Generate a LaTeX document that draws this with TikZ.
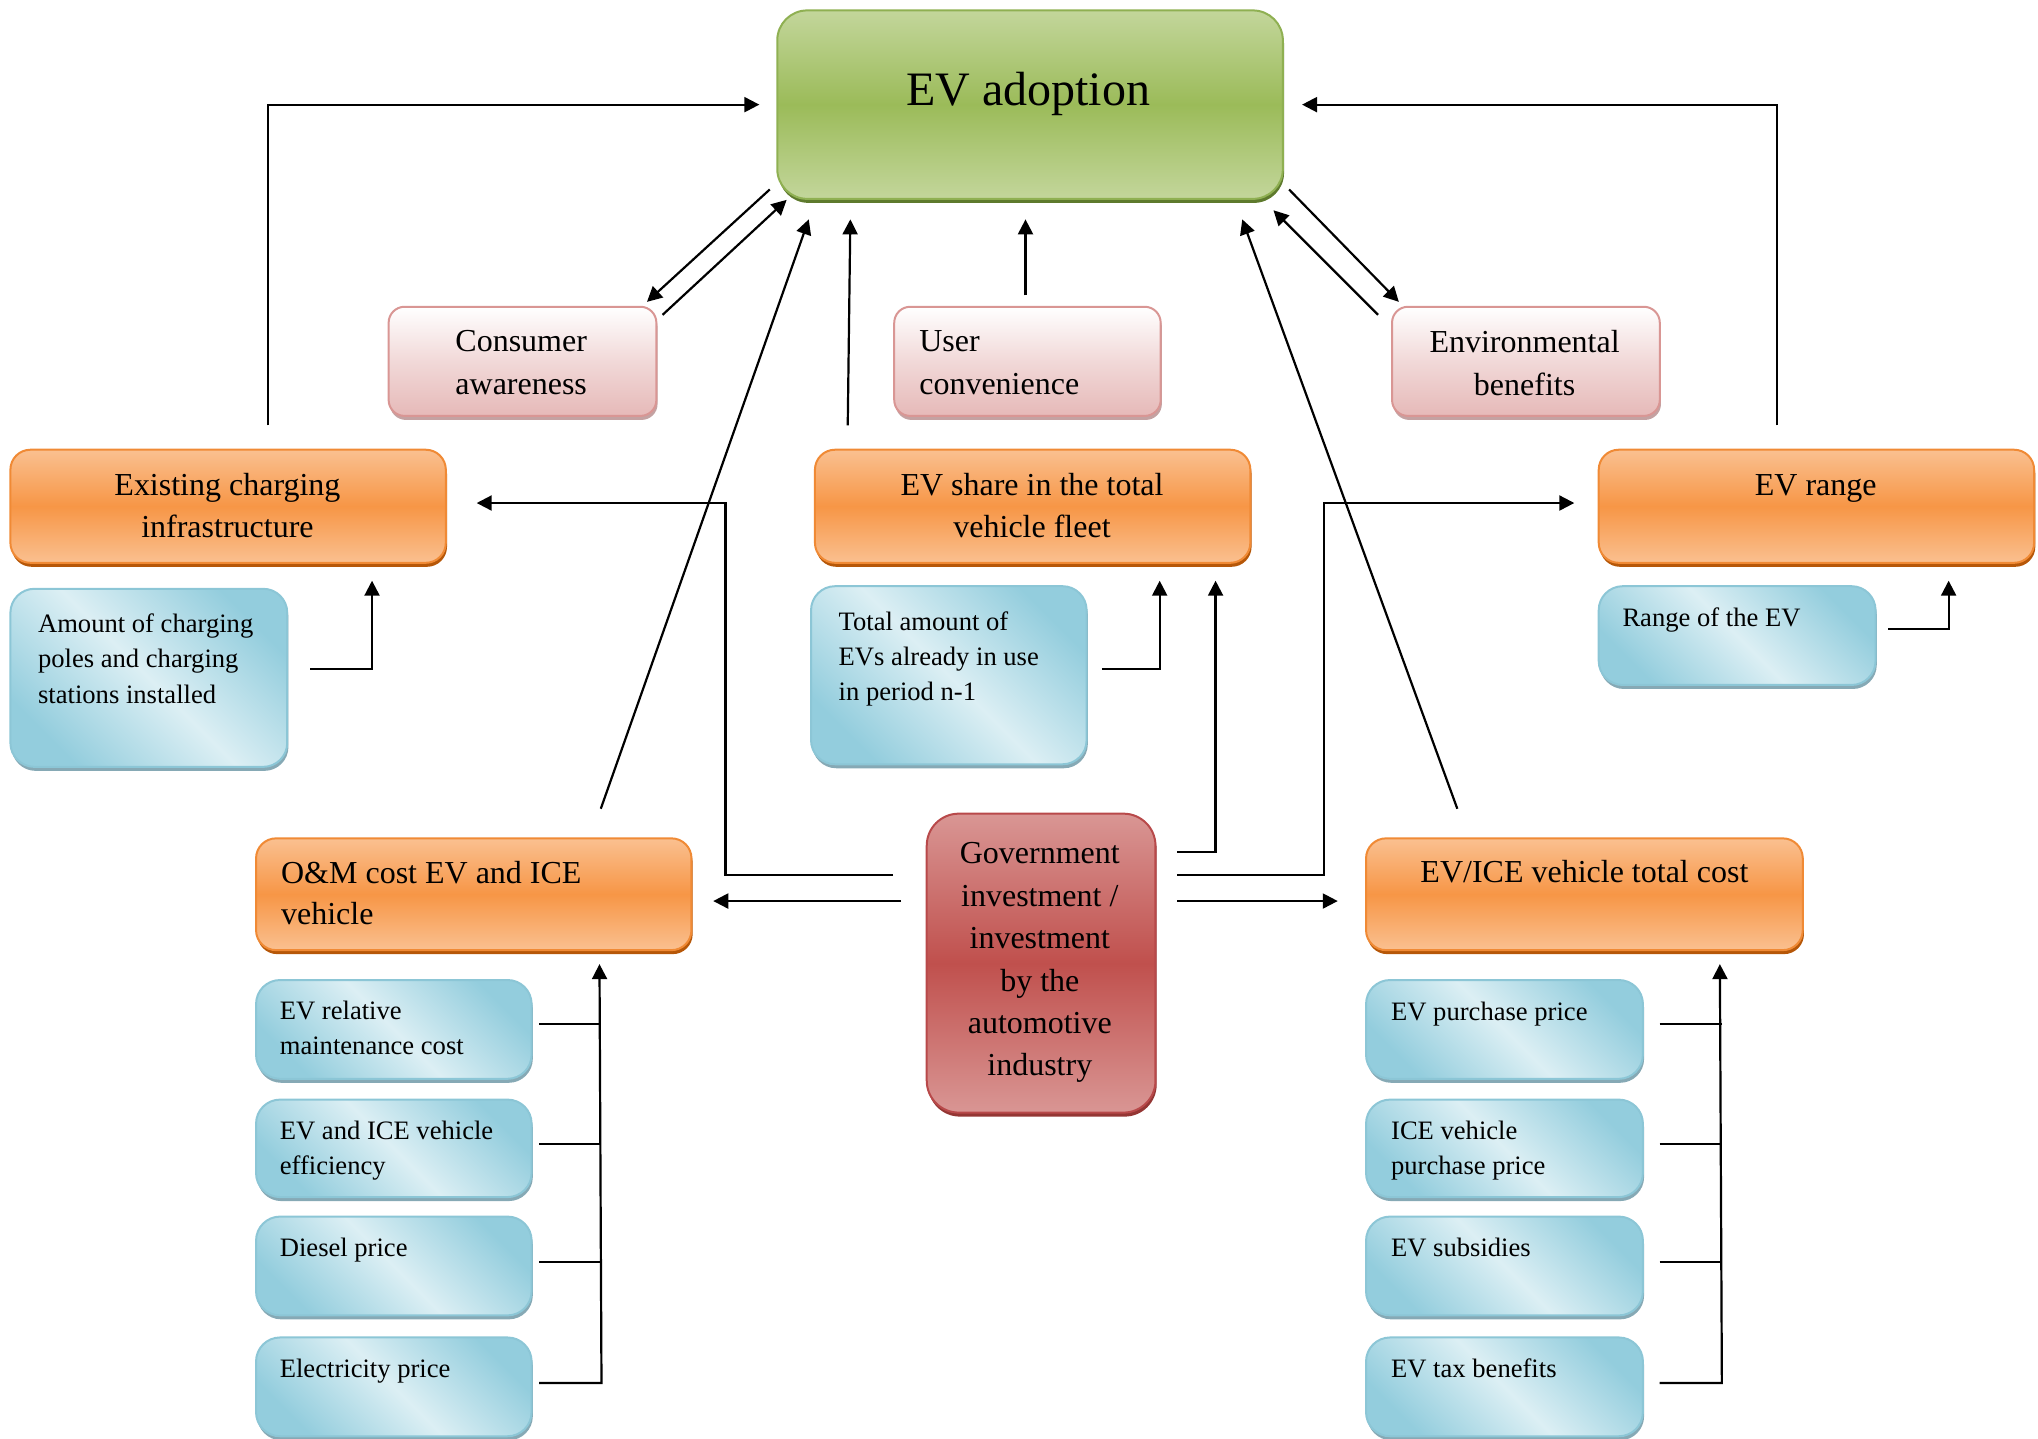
\documentclass[tikz,border=0pt]{standalone}
\usepackage{fontspec}
\setmainfont{Liberation Serif}
\usetikzlibrary{arrows.meta,calc,fit,shadows}
\definecolor{gLight}{HTML}{C3D69B}
\definecolor{gMid}{HTML}{9BBB59}
\definecolor{gBorder}{HTML}{8FB052}
\definecolor{gShadow}{HTML}{5E7A2D}
\definecolor{oLight}{HTML}{FAC090}
\definecolor{oMid}{HTML}{F79646}
\definecolor{oBorder}{HTML}{F08A35}
\definecolor{oShadow}{HTML}{B65708}
\definecolor{pBottom}{HTML}{E6B9B8}
\definecolor{pBorder}{HTML}{D99694}
\definecolor{pShadow}{HTML}{C4A2A2}
\definecolor{bDark}{HTML}{93CDDD}
\definecolor{bLight}{HTML}{DCEFF4}
\definecolor{bBorder}{HTML}{8CC6D6}
\definecolor{bShadow}{HTML}{86A9B5}
\definecolor{rLight}{HTML}{D99694}
\definecolor{rMid}{HTML}{C0504D}
\definecolor{rBorder}{HTML}{B8494A}
\definecolor{rShadow}{HTML}{943634}
\begin{document}
\begin{tikzpicture}[x=0.65pt,y=-0.65pt,
  boxbase/.style={inner sep=0pt, line width=1pt},
  gbox/.style={boxbase, draw=gBorder, rounded corners=15pt,
    top color=gLight, bottom color=gLight, middle color=gMid,
    general shadow={fill=gShadow, shadow yshift=-2pt, shadow xshift=0.6pt}},
  obox/.style={boxbase, draw=oBorder, rounded corners=10pt,
    top color=oLight, bottom color=oLight, middle color=oMid,
    general shadow={fill=oShadow, shadow yshift=-2pt, shadow xshift=0.6pt}},
  pbox/.style={boxbase, draw=pBorder, rounded corners=8pt,
    top color=white, bottom color=pBottom, middle color=pBottom!55,
    general shadow={fill=pShadow, shadow yshift=-2pt, shadow xshift=0.6pt}},
  bbox/.style={boxbase, draw=bBorder, rounded corners=12pt,
    top color=bDark, bottom color=bDark, middle color=bLight, shading angle=-45,
    general shadow={fill=bShadow, shadow yshift=-2pt, shadow xshift=0.6pt}},
  rbox/.style={boxbase, draw=rBorder, rounded corners=16pt,
    top color=rLight, bottom color=rLight, middle color=rMid,
    general shadow={fill=rShadow, shadow yshift=-2pt, shadow xshift=0.6pt}},
  bigtext/.style={inner sep=0pt, font=\fontsize{24}{28}\selectfont},
  otext/.style={inner sep=0pt, align=center, font=\fontsize{16}{20.8}\selectfont},
  ptext/.style={inner sep=0pt, align=center, font=\fontsize{16}{21.5}\selectfont},
  rtext/.style={inner sep=0pt, align=center, font=\fontsize{16}{21.2}\selectfont},
  btext/.style={inner sep=0pt, align=left, font=\fontsize{13.3}{17.6}\selectfont},
  conn/.style={line width=1.1pt},
  arr/.style={line width=1.1pt, -{Triangle[length=7.5pt,width=7.5pt]}}
]
\useasboundingbox (0,0) rectangle (1568,1107);

% ---- boxes ----
\node[gbox, fit={(598,8)(987,153)}] (evad) {};
\node[bigtext, anchor=base] (evadt) at (791,81) {EV adoption};

\node[pbox, fit={(299,236)(505,320)}] (cons) {};
\node[ptext, anchor=north] (const) at (401,254) {Consumer\\awareness};
\node[pbox, fit={(688,236)(893,320)}] (user) {};
\node[ptext, align=left, anchor=north west] (usert) at (707,254) {User\\convenience};
\node[pbox, fit={(1071,236)(1277,320)}] (env) {};
\node[ptext, anchor=north] (envt) at (1173,254) {Environmental\\benefits};

\node[obox, fit={(8,346)(343,433)}] (infra) {};
\node[otext, anchor=north] (infrat) at (175,364) {Existing charging\\infrastructure};
\node[obox, fit={(627,346)(962,433)}] (share) {};
\node[otext, anchor=north] (sharet) at (794,364) {EV share in the total\\vehicle fleet};
\node[obox, fit={(1230,346)(1565,433)}] (range) {};
\node[otext, anchor=base] (ranget) at (1397,381) {EV range};

\node[bbox, fit={(8,453)(221,590)}] (amount) {};
\node[btext, anchor=north west] (amountt) at (29,472) {Amount of charging\\poles and charging\\stations installed};
\node[bbox, fit={(624,451)(836,588)}] (total) {};
\node[btext, anchor=north west] (totalt) at (645,470) {Total amount of\\EVs already in use\\in period n-1};
\node[bbox, fit={(1230,451)(1443,527)}] (rangeev) {};
\node[btext, anchor=base west] (rangeevt) at (1248,482) {Range of the EV};

\node[obox, fit={(197,645)(532,731)}] (om) {};
\node[otext, align=left, anchor=north west] (omt) at (216,662) {O\&M cost EV and ICE\\vehicle};
\node[rbox, fit={(713,626)(889,856)}] (gov) {};
\node[rtext, anchor=north] (govt) at (800,648) {Government\\investment /\\investment\\by the\\automotive\\industry};
\node[obox, fit={(1051,645)(1387,731)}] (tc) {};
\node[otext, anchor=base] (tct) at (1219,679) {EV/ICE vehicle total cost};

\node[bbox, fit={(197,754)(409,830)}] (l1) {};
\node[btext, anchor=north west] (l1t) at (215,770) {EV relative\\maintenance cost};
\node[bbox, fit={(197,846)(409,921)}] (l2) {};
\node[btext, anchor=north west] (l2t) at (215,862) {EV and ICE vehicle\\efficiency};
\node[bbox, fit={(197,936)(409,1012)}] (l3) {};
\node[btext, anchor=base west] (l3t) at (215,967) {Diesel price};
\node[bbox, fit={(197,1029)(409,1105)}] (l4) {};
\node[btext, anchor=base west] (l4t) at (215,1060) {Electricity price};

\node[bbox, fit={(1051,754)(1264,830)}] (r1) {};
\node[btext, anchor=base west] (r1t) at (1070,785) {EV purchase price};
\node[bbox, fit={(1051,846)(1264,921)}] (r2) {};
\node[btext, anchor=north west] (r2t) at (1070,862) {ICE vehicle\\purchase price};
\node[bbox, fit={(1051,936)(1264,1012)}] (r3) {};
\node[btext, anchor=base west] (r3t) at (1070,967) {EV subsidies};
\node[bbox, fit={(1051,1029)(1264,1105)}] (r4) {};
\node[btext, anchor=base west] (r4t) at (1070,1060) {EV tax benefits};

% ---- connectors ----
\draw[arr] ($(infra.north west)+(199,-18)$) |- ($(evad.west)+(-13,0)$);
\draw[arr] ($(range.north west)+(138,-18)$) |- ($(evad.east)+(14,0)$);
\draw[arr] ($(evad.south west)+(-5,-8)$) -- ($(cons.north east)+(-8,-3)$);
\draw[arr] ($(cons.north east)+(4,7)$) -- ($(evad.south west)+(8,0)$);
\draw[arr] ($(evad.south east)+(4,-8)$) -- ($(env.north west)+(6,-3)$);
\draw[arr] ($(env.north west)+(-10,7)$) -- ($(evad.south east)+(-8,8)$);
\draw[arr] ($(user.north)+(-1.5,-8)$) -- ($(user.north |- evad.south)+(-1.5,15)$);
\draw[arr] ($(share.north west)+(26,-18)$) -- ($(evad.south west)+(57,15)$);
\draw[arr] ($(om.north west)+(266,-22)$) -- ($(evad.south west)+(25,15)$);
\draw[arr] ($(tc.north west)+(71,-22)$) -- ($(evad.south east)+(-32,15)$);

\draw[arr] ($(amount.east)+(17,-6.5)$) -| ($(infra.south west)+(279,13)$);
\draw[arr] ($(total.east)+(11,-4.5)$) -| ($(share.south west)+(266,13)$);
\draw[arr] ($(rangeev.east)+(9,-5)$) -| ($(range.south west)+(270,13)$);

\draw[arr] ($(gov.north east)+(16,30)$) -| ($(share.south west)+(309,13)$);
\draw[arr] ($(gov.north west)+(-25,48)$) -- ++(-129,0) |- ($(infra.east)+(23,-2.5)$);
\draw[arr] ($(gov.north east)+(16,48)$) -- ++(113,0) |- ($(range.west)+(-18,-2.5)$);
\draw[arr] ($(gov.north west)+(-19,68)$) -- ($(om.north east)+(16,49)$);
\draw[arr] ($(gov.north east)+(16,68)$) -- ($(tc.north west)+(-21,49)$);

\draw[arr] ($(l4.east)+(5,-3)$) -- ++(48,0) -- ($(om.south west)+(265,10)$);
\draw[conn] ($(l1.east)+(5,-4)$) -- ++(48,0);
\draw[conn] ($(l2.east)+(5,-3.5)$) -- ++(48,0);
\draw[conn] ($(l3.east)+(5,-3)$) -- ++(48,0);

\draw[arr] ($(r4.east)+(12,-3)$) -- ++(48,0) -- ($(tc.south west)+(273,10)$);
\draw[conn] ($(r1.east)+(12,-4)$) -- ++(48,0);
\draw[conn] ($(r2.east)+(12,-3.5)$) -- ++(48,0);
\draw[conn] ($(r3.east)+(12,-3)$) -- ++(48,0);
\end{tikzpicture}
\end{document}
